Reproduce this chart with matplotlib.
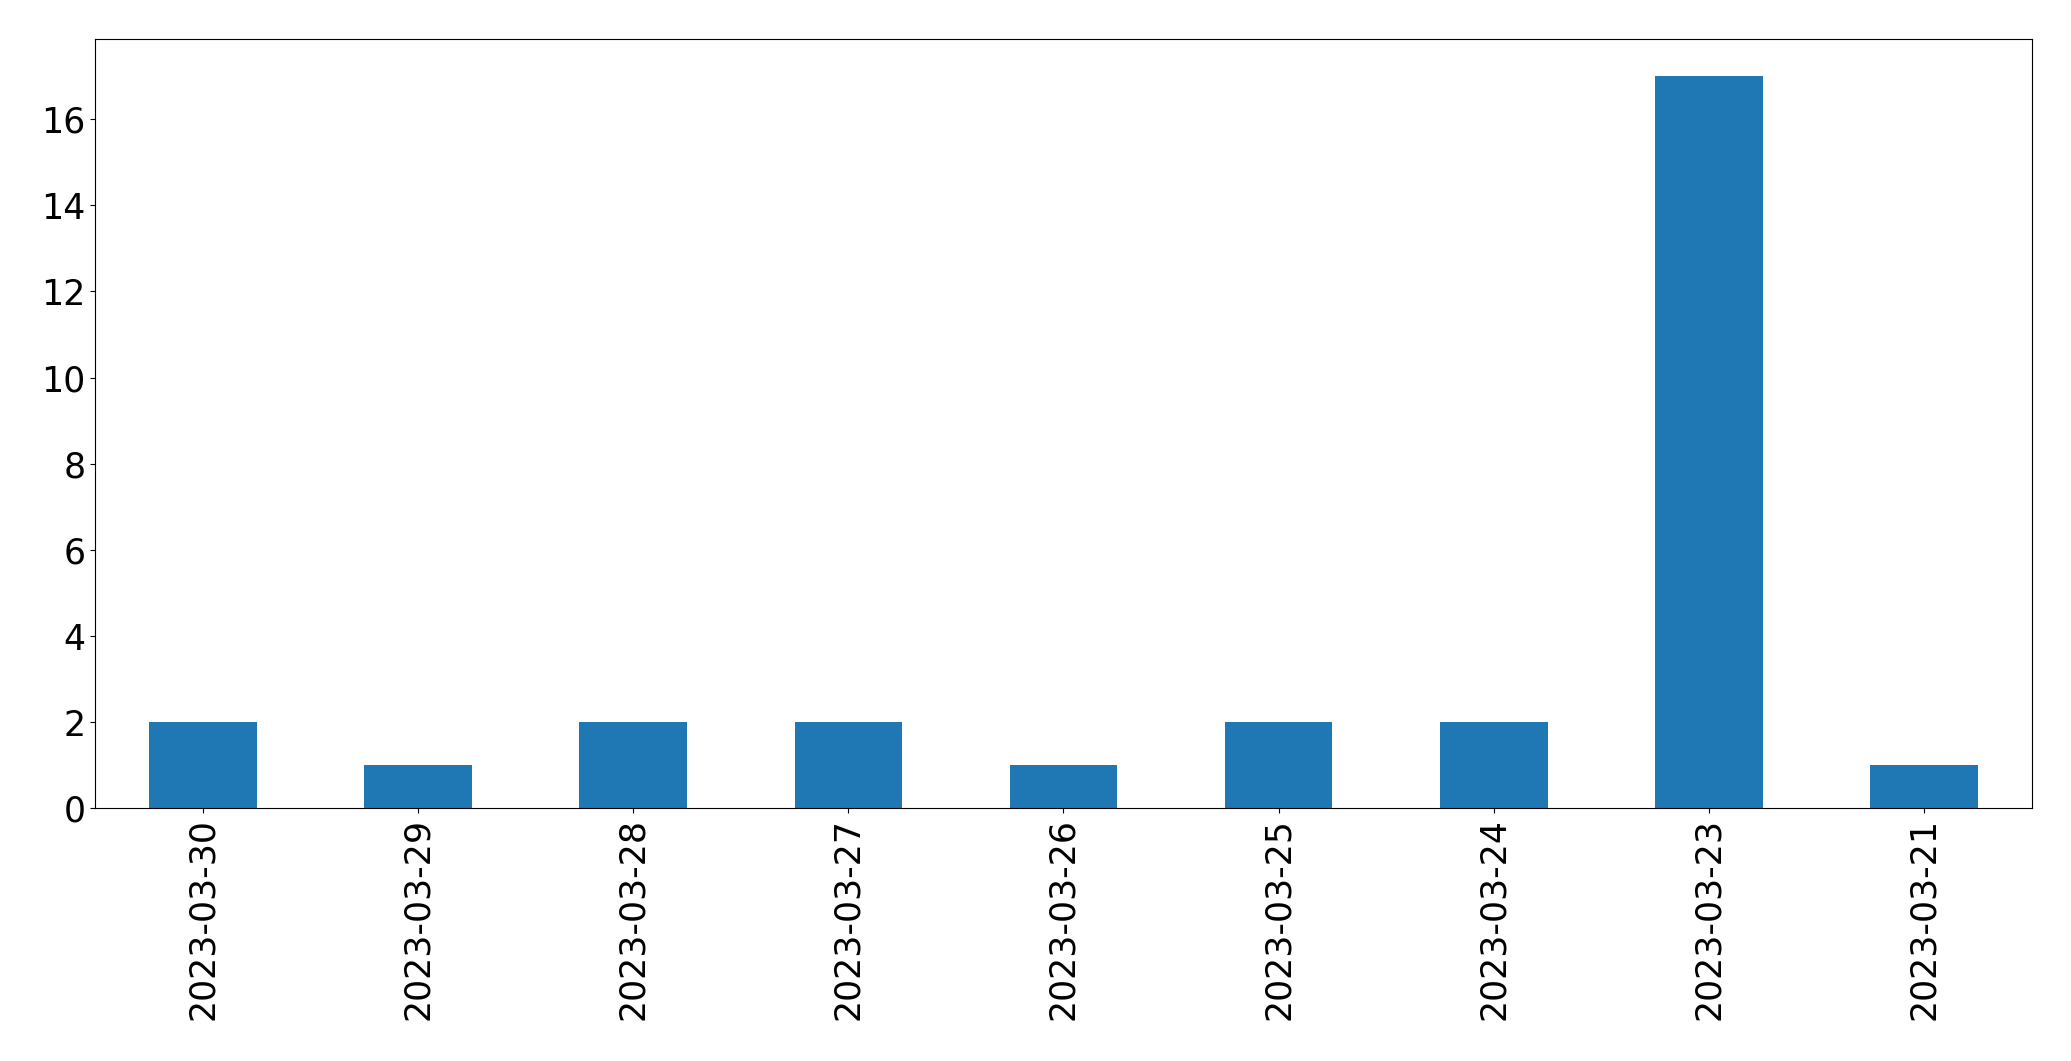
import matplotlib
matplotlib.use("Agg")
import matplotlib.pyplot as plt

dates = ["2023-03-30", "2023-03-29", "2023-03-28", "2023-03-27", "2023-03-26",
         "2023-03-25", "2023-03-24", "2023-03-23", "2023-03-21"]
counts = [2, 1, 2, 2, 1, 2, 2, 17, 1]

fig = plt.figure(figsize=(20.71, 10.61), dpi=100)
ax = fig.add_axes([0.046, 0.238, 0.935, 0.725])
x = list(range(len(dates)))
ax.bar(x, counts, width=0.5, color="#1f77b4")
ax.set_xlim(-0.5, len(dates) - 0.5)
ax.set_ylim(0, 17.85)
ax.set_xticks(x)
ax.set_xticklabels(dates, rotation=90)
ax.tick_params(axis="both", labelsize=25)
fig.savefig("out.png", dpi=100)
